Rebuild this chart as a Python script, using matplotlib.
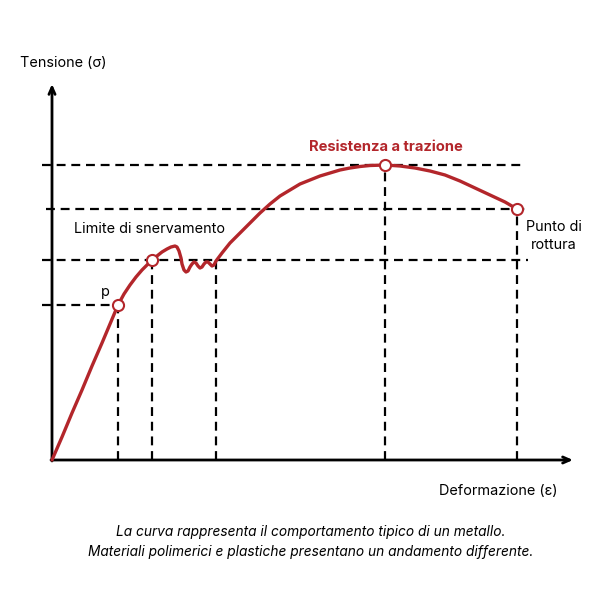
import matplotlib
matplotlib.use("Agg")
import matplotlib.pyplot as plt

plt.rcParams['font.family'] = ['Inter', 'DejaVu Sans']

# Curve (strain, stress) in drawing units relative to origin
strain = [0, 10, 20, 30, 40, 50, 58, 66, 72, 78, 84, 90, 96, 100, 105, 110, 115, 119, 123,
          125, 127, 129, 130, 132, 134, 136, 138, 140, 142, 144, 146, 148, 150, 152, 154,
          156, 158, 160, 162, 164, 170, 178, 188, 198, 208, 218, 228, 238, 248, 258, 268,
          278, 288, 298, 308, 318, 333, 348, 363, 378, 393, 408, 423, 438, 453, 465]
stress = [0, 23, 47, 70, 94, 117, 136, 155, 166, 175, 183, 190, 196, 200, 204, 208, 211,
          213, 214, 213, 209, 202, 196, 190, 188, 189, 193, 196, 198, 197, 194, 192, 193,
          196, 198, 198, 196, 194, 195, 199, 207, 217, 227, 237, 247, 256, 264, 270, 276,
          280, 284, 287, 290, 292, 293.5, 294.5, 295, 294, 292, 289, 285, 279, 272, 265,
          258, 251]

# Key points: proportional limit, yield, end of yielding, tensile strength, rupture
key_strain = [66, 100, 164, 333, 465]
key_stress = [155, 200, 199, 295, 251]
marked = [0, 1, 3, 4]

red = '#b3262b'

fig = plt.figure(figsize=(6, 6), dpi=100)
ax = fig.add_axes([0, 0, 1, 1])
ax.set_xlim(-52, 548)
ax.set_ylim(-140, 460)
ax.axis('off')

dash = dict(color='black', lw=1.6, ls=(0, (4, 2.6)), zorder=1)
# horizontal guides
ax.plot([-10, 78], [key_stress[0]] * 2, **dash)
ax.plot([-10, 476], [key_stress[1]] * 2, **dash)
ax.plot([-6, 476], [key_stress[4]] * 2, **dash)
ax.plot([-10, 474], [key_stress[3]] * 2, **dash)
# vertical guides
for xs, ys in zip(key_strain, key_stress):
    ax.plot([xs, xs], [0, ys], **dash)

# axes arrows
arrow = dict(arrowstyle='->,head_length=0.5,head_width=0.22', color='black', lw=2,
             shrinkA=0, shrinkB=0)
ax.annotate('', xy=(0, 376), xytext=(0, -1), arrowprops=arrow)
ax.annotate('', xy=(521, 0), xytext=(-1, 0), arrowprops=arrow)

ax.plot(strain, stress, color=red, lw=2.4, solid_joinstyle='round', solid_capstyle='round', zorder=3)
ax.plot([key_strain[i] for i in marked], [key_stress[i] for i in marked], 'o', ms=8,
        mfc='white', mec=red, mew=1.5, zorder=4)

fs = 10.4
ax.text(-32, 397, 'Tensione (σ)', fontsize=fs, ha='left', va='center')
ax.text(506, -31, 'Deformazione (ε)', fontsize=fs, ha='right', va='center')
ax.text(22, 231, 'Limite di snervamento', fontsize=fs, ha='left', va='center')
ax.text(53, 168, 'p', fontsize=fs, ha='center', va='center')
ax.text(334, 313, 'Resistenza a trazione', fontsize=10.6, fontweight='bold', color=red,
        ha='center', va='center')
ax.text(502, 240, 'Punto di\nrottura', fontsize=fs, ha='center', va='top', linespacing=1.35)

ax.text(259, -82, 'La curva rappresenta il comportamento tipico di un metallo.\n'
        'Materiali polimerici e plastiche presentano un andamento differente.',
        fontsize=9.9, style='italic', ha='center', va='center', linespacing=1.5)

fig.savefig('out.png', dpi=100)
